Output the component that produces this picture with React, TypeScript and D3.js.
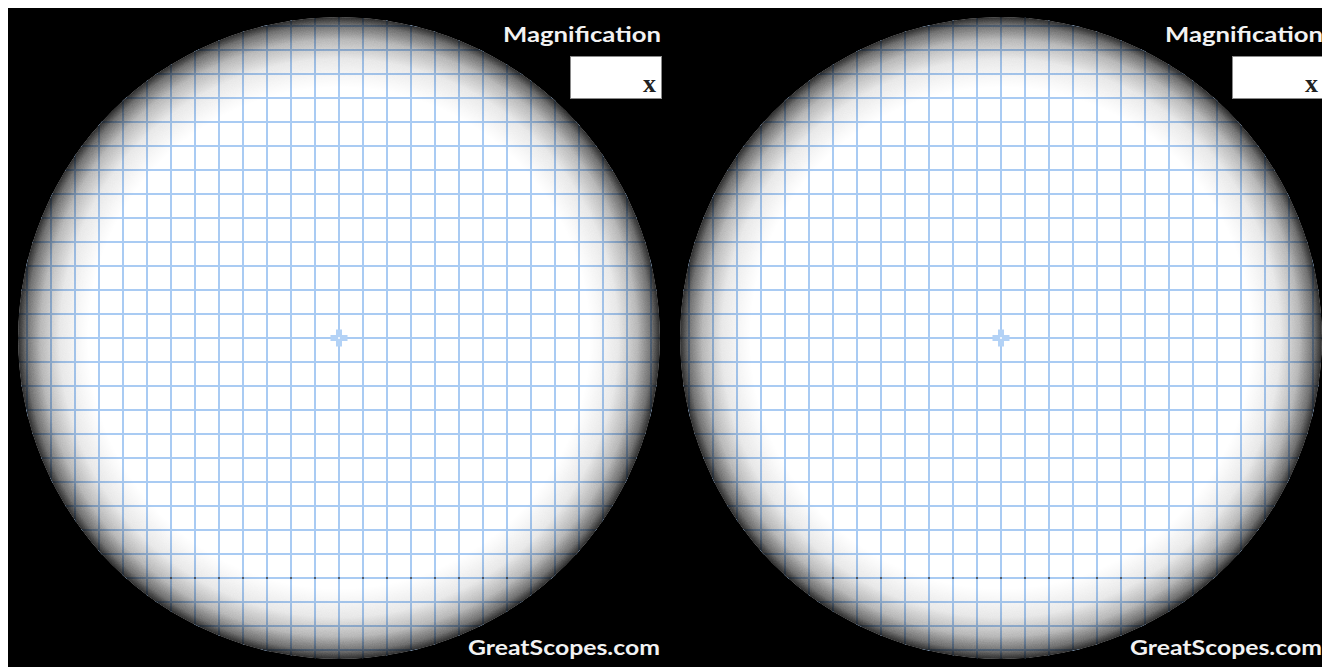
import React, { useEffect } from 'react';
import * as d3 from 'd3';

// two identical eyepiece fields, side by side
const panels = ['left', 'right'];
const gridSteps = [-14, -13, -12, -11, -10, -9, -8, -7, -6, -5, -4, -3, -2, -1, 0, 1, 2, 3, 4, 5, 6, 7, 8, 9, 10, 11, 12, 13, 14];
const scaleRow = 10;
const scaleMarks = [-7, -6, -5, -4, -3, -2, -1, 0, 1, 2, 3, 4, 5, 6, 7];
const titleLabel = 'Magnification';
const unitLabel = 'x';
const brandLabel = 'GreatScopes.com';

const width = 1340;
const height = 680;
const radius = 321;
const cell = 24;
const panelGap = 662;

export default function App() {
  useEffect(() => {
    document.documentElement.style.overflow = 'hidden';
    document.body.style.overflow = 'hidden';
  }, []);

  const gridColor = '#a9cbf3';

  return (
    <svg
      width={width}
      height={height}
      style={{ display: 'block', position: 'fixed', left: 8, top: 8, background: '#000' }}
    >
      <defs>
        <radialGradient id="vignette" cx="0.5" cy="0.5" r="0.5">
          <stop offset="0.78" stopColor="#000" stopOpacity={0} />
          <stop offset="0.87" stopColor="#000" stopOpacity={0.08} />
          <stop offset="0.93" stopColor="#000" stopOpacity={0.25} />
          <stop offset="0.975" stopColor="#000" stopOpacity={0.52} />
          <stop offset="1" stopColor="#000" stopOpacity={0.8} />
        </radialGradient>
        <filter id="grain" x="0" y="0" width="100%" height="100%">
          <feTurbulence type="fractalNoise" baseFrequency="0.9" numOctaves={2} seed={3} result="n" />
          <feColorMatrix in="n" type="matrix" values="0 0 0 0 0  0 0 0 0 0  0 0 0 0 0  0 0 0 0.35 0" result="g" />
          <feComposite in="g" in2="SourceGraphic" operator="in" />
        </filter>
      </defs>
      {panels.map((p, i) => {
        const cx = 331 + i * panelGap;
        const cy = 330;
        const x = d3.scaleLinear().domain([0, 1]).range([cx, cx + cell]);
        const y = d3.scaleLinear().domain([0, 1]).range([cy, cy + cell]);
        const clipId = `field-${p}`;
        return (
          <g key={p}>
            <clipPath id={clipId}>
              <circle cx={cx} cy={cy} r={radius} />
            </clipPath>
            <g clipPath={`url(#${clipId})`}>
              <circle cx={cx} cy={cy} r={radius} fill="#fff" />
              {gridSteps.map((s) => (
                <line key={`v${s}`} x1={x(s)} x2={x(s)} y1={cy - radius} y2={cy + radius} stroke={gridColor} strokeWidth={2} />
              ))}
              {gridSteps.map((s) => (
                <line key={`h${s}`} y1={y(s)} y2={y(s)} x1={cx - radius} x2={cx + radius} stroke={gridColor} strokeWidth={2} />
              ))}
              {scaleMarks.map((s) => (
                <rect key={`m${s}`} x={x(s) - 1} y={y(scaleRow) - 1} width={2} height={2} fill="#555e6a" />
              ))}
              <g fill="#b3d2f6">
                <rect x={x(0) - 3} y={y(0) - 8.5} width={6} height={17} />
                <rect x={x(0) - 8.5} y={y(0) - 3} width={17} height={6} />
              </g>
              <circle cx={x(0)} cy={y(0)} r={1} fill="#fff" />
              <circle cx={cx} cy={cy} r={radius} fill="url(#vignette)" />
              <circle cx={cx} cy={cy} r={radius} fill="url(#vignette)" filter="url(#grain)" opacity={0.8} />
            </g>
            <text
              x={cx + 322}
              y={34}
              textAnchor="end"
              fill="#f2f2f2"
              fontFamily="Lato, 'DejaVu Sans', sans-serif"
              fontWeight="bold"
              fontSize={21}
              textLength={158}
              lengthAdjust="spacingAndGlyphs"
            >
              {titleLabel}
            </text>
            <rect x={cx + 231.5} y={48.5} width={91} height={42} fill="#fff" stroke="#8a8a8a" strokeWidth={1} />
            <text
              x={cx + 317}
              y={84}
              textAnchor="end"
              fill="#222"
              fontFamily="'Liberation Serif', serif"
              fontWeight="bold"
              fontSize={26}
            >
              {unitLabel}
            </text>
            <text
              x={cx + 321}
              y={647}
              textAnchor="end"
              fill="#f2f2f2"
              fontFamily="Lato, 'DejaVu Sans', sans-serif"
              fontWeight="bold"
              fontSize={21}
              textLength={192}
              lengthAdjust="spacingAndGlyphs"
            >
              {brandLabel}
            </text>
          </g>
        );
      })}
    </svg>
  );
}
